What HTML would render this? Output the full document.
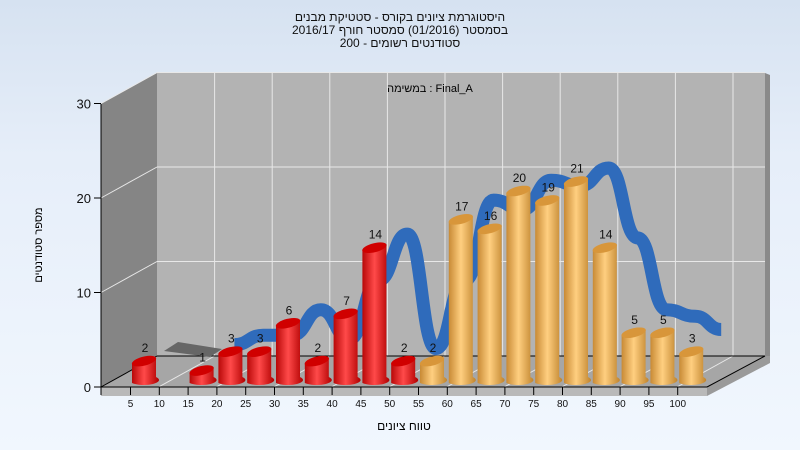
<!DOCTYPE html>
<html><head><meta charset="utf-8"><style>
html,body{margin:0;padding:0;width:800px;height:450px;overflow:hidden;background:#eef5fd;}
svg text{font-family:"Liberation Sans",sans-serif;}
</style></head><body>
<svg id="chart" width="800" height="450" viewBox="0 0 800 450" xmlns="http://www.w3.org/2000/svg">
<defs>
<linearGradient id="bg" x1="0" y1="0" x2="0" y2="1"><stop offset="0" stop-color="#d6e2f1"/><stop offset="0.35" stop-color="#e6eef9"/><stop offset="1" stop-color="#f1f7fe"/></linearGradient>
<linearGradient id="red" x1="0" y1="0" x2="1" y2="0"><stop offset="0" stop-color="#b80808"/><stop offset="0.45" stop-color="#ff4a4a"/><stop offset="1" stop-color="#b00000"/></linearGradient>
<linearGradient id="gold" x1="0" y1="0" x2="1" y2="0"><stop offset="0" stop-color="#c88a35"/><stop offset="0.45" stop-color="#ffcf80"/><stop offset="1" stop-color="#c0842e"/></linearGradient>
</defs>
<rect width="800" height="450" fill="url(#bg)"/>
<g font-size="12" fill="#111" text-anchor="middle">
<text x="400" y="21">היסטוגרמת ציונים בקורס - סטטיקת מבנים</text>
<text x="400" y="34">בסמסטר  (01/2016)  סמסטר חורף 2016/17</text>
<text x="400" y="47">סטודנטים רשומים - 200</text>
</g>
<polygon points="101,104 157,73 157,356 101,387" fill="#858585"/>
<rect x="157" y="73" width="608" height="283" fill="#b3b3b3"/>
<polygon points="765,73 770,75 770,356 765,356" fill="#8a8a8a"/>
<polygon points="101,387 157,356 765,356 707,387" fill="#a6a6a6"/>
<polygon points="101,387 707,387 707,396 101,396" fill="#b9b9b9"/>
<polygon points="707,387 765,356 770,356 770,363 707,396" fill="#9a9a9a"/>
<g id="grid" stroke="#e8e8e8" stroke-width="1"></g>
<line x1="157" y1="356" x2="765" y2="356" stroke="#000"/>
<line x1="157" y1="356" x2="101" y2="387" stroke="#000"/>
<line x1="707" y1="387" x2="765" y2="356" stroke="#000"/>
<line x1="101" y1="387" x2="707" y2="387" stroke="#000"/>
<line x1="101" y1="104" x2="101" y2="387" stroke="#000"/>
<g id="axes" font-size="11" fill="#111"></g>
<text x="430" y="92" font-size="11" text-anchor="middle">במשימה : Final_A</text>
<text x="42" y="245" font-size="11" text-anchor="middle" transform="rotate(-90 42 245)">מספר סטודנטים</text>
<text x="404" y="430" font-size="12" text-anchor="middle">טווח ציונים</text>
<polygon points="164,351 178,342 222,349 210,357" fill="#666"/>
<path id="ribbon" fill="none" stroke="#2f6bbb" stroke-width="13" stroke-linejoin="round"/>
<g id="bars"></g>
</svg>
<script>
const categories=["5","10","15","20","25","30","35","40","45","50","55","60","65","70","75","80","85","90","95","100"];
const counts=[2,0,1,3,3,6,2,7,14,2,2,17,16,20,19,21,14,5,5,3];
const trend=[null,null,null,1.2,2.2,2.2,4.9,1.8,8,12.9,0.8,8,16.5,15.5,18.6,18,19.9,12.5,4.9,4.2];
const yTicks=[0,10,20,30];
const NS="http://www.w3.org/2000/svg";
const x0=144, dx=28.8;
function xBar(i){return x0+dx*i;}
function yFront(v){return 387-v*9.45;}
function yBar(v){return 383-v*9.45;}
function yBack(v){return 356-v*9.45;}
function mk(t,a,p){const e=document.createElementNS(NS,t);for(const k in a)e.setAttribute(k,a[k]);p.appendChild(e);return e;}
const grid=document.getElementById('grid'), axes=document.getElementById('axes'), bars=document.getElementById('bars');
for(let k=1;k<11;k++){const gx=157+57.6*k; const l=mk('line',{x1:gx,y1:73,x2:gx,y2:356},grid);


const f=mk('line',{x1:gx,y1:356,x2:gx-56,y2:387},grid);

}
yTicks.forEach(v=>{ if(v>0){const l=mk('line',{x1:157,y1:yBack(v),x2:765,y2:yBack(v)},grid);


const d=mk('line',{x1:101,y1:yFront(v),x2:157,y2:yBack(v)},grid);

}
const t=mk('line',{x1:94,y1:yFront(v),x2:101,y2:yFront(v),stroke:'#000'},axes);


const tx=mk('text',{x:91,y:yFront(v)+5,'text-anchor':'end','font-size':'13'},axes);tx.textContent=v;

});
mk('line',{x1:101,y1:387,x2:101,y2:395,stroke:'#000'},axes);
categories.forEach((c,i)=>{const tx0=130.5+dx*i;
const t=mk('line',{x1:tx0,y1:387,x2:tx0,y2:395,stroke:'#000'},axes);


const l=mk('text',{x:tx0,y:407,'text-anchor':'middle','font-size':'10'},axes);l.textContent=c;

});
let pts=[];trend.forEach((v,i)=>{if(v!==null)pts.push([xBar(i)+4,yBack(v)]);});
pts.push([xBar(19)+30,yBack(2.8)]);
let d='M'+pts[0][0]+','+pts[0][1];
for(let i=1;i<pts.length;i++){const p0=pts[i-1],p1=pts[i];const mx=(p0[0]+p1[0])/2;d+=' C'+mx+','+p0[1]+' '+mx+','+p1[1]+' '+p1[0]+','+p1[1];}
document.getElementById('ribbon').setAttribute('d',d);
counts.forEach((v,i)=>{ if(v<=0)return; const cx=xBar(i), w=24, top=yBar(v), bot=383;
const g=mk('g',{},bars);


const fill=i<10?'url(#red)':'url(#gold)', cap=i<10?'#d00000':'#d8963a';
mk('path',{d:`M${cx-w/2},${top} L${cx-w/2},${bot} A${w/2},4 0 0 0 ${cx+w/2},${bot-6} L${cx+w/2},${top-6} Z`,fill:fill},g);
mk('ellipse',{cx:cx,cy:top-3,rx:w/2+0.5,ry:4.5,fill:cap,transform:`rotate(-14 ${cx} ${top-3})`},g);
const t=mk('text',{x:cx+1,y:top-12,'text-anchor':'middle','font-size':'12',fill:'#111'},bars);t.textContent=v;

});
</script>
</body></html>
